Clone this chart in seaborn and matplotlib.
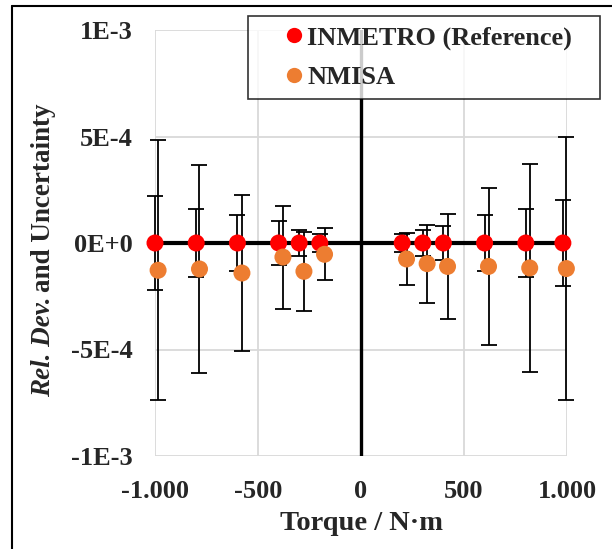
import matplotlib
matplotlib.use("Agg")
import matplotlib.pyplot as plt
import seaborn as sns
import pandas as pd
from matplotlib.lines import Line2D

# datos
torque_inmetro = [-1000, -800, -600, -400, -300, -200, 200, 300, 400, 600, 800, 980]
dev_inmetro = [0, 0, 0, 0, 0, 0, 0, 0, 0, 0, 0, 0]
u_inmetro = [2.2e-4, 1.6e-4, 1.3e-4, 1.02e-4, 0.61e-4, 0.42e-4,
             0.41e-4, 0.61e-4, 0.8e-4, 1.3e-4, 1.6e-4, 2.0e-4]

torque_nmisa = [-985, -784, -578, -379, -277, -177, 221, 321, 420, 619, 819, 997]
dev_nmisa = [-1.28e-4, -1.22e-4, -1.41e-4, -0.66e-4, -1.33e-4, -0.53e-4,
             -0.75e-4, -0.97e-4, -1.10e-4, -1.10e-4, -1.17e-4, -1.20e-4]
u_nmisa = [6.1e-4, 4.9e-4, 3.65e-4, 2.42e-4, 1.85e-4, 1.22e-4,
           1.2e-4, 1.83e-4, 2.45e-4, 3.67e-4, 4.9e-4, 6.17e-4]

x_ticks = [-1000, -500, 0, 500, 1000]
x_labels = ["-1.000", "-500", "0", "500", "1.000"]
y_ticks = [-1e-3, -5e-4, 0, 5e-4, 1e-3]
y_labels = ["-1E-3", "-5E-4", "0E+0", "5E-4", "1E-3"]

df = pd.concat([
    pd.DataFrame({"Torque": torque_inmetro, "Dev": dev_inmetro, "U": u_inmetro,
                  "Lab": "INMETRO (Reference)"}),
    pd.DataFrame({"Torque": torque_nmisa, "Dev": dev_nmisa, "U": u_nmisa,
                  "Lab": "NMISA"}),
])

sns.set_style("white")
plt.rcParams["font.family"] = ["Liberation Serif", "DejaVu Serif"]
plt.rcParams["font.weight"] = "bold"

fig = plt.figure(figsize=(6.12, 5.49), dpi=100)
ax = fig.add_axes([155 / 612, 1 - 456 / 549, 412 / 612, 426 / 549])

for s in ax.spines.values():
    s.set_visible(False)

ax.set_xlim(-1000, 1000)
ax.set_ylim(-1e-3, 1e-3)
ax.set_xticks(x_ticks)
ax.set_xticklabels(x_labels)
ax.set_yticks(y_ticks)
ax.set_yticklabels(y_labels)
ax.tick_params(axis="both", length=0, labelsize=19)
ax.tick_params(axis="y", pad=16)
ax.tick_params(axis="x", pad=17)
ax.grid(True, color="#d9d9d9", linewidth=1.3)
ax.set_axisbelow(True)

# ejes en cero
ax.axhline(0, color="black", linewidth=3, zorder=2)
ax.axvline(0, color="black", linewidth=2.4, zorder=2)

colores = {"INMETRO (Reference)": "#ff0000", "NMISA": "#ed7d31"}

for lab, sub in df.groupby("Lab"):
    ax.errorbar(sub["Torque"], sub["Dev"], yerr=sub["U"], fmt="none",
                ecolor="black", elinewidth=1.3, capsize=6, capthick=1.3,
                zorder=3, clip_on=False)

sns.scatterplot(data=df, x="Torque", y="Dev", hue="Lab", palette=colores,
                s=150, edgecolor="none", ax=ax, zorder=4, clip_on=False,
                legend=False)

handles = [Line2D([], [], marker="o", linestyle="none", markersize=11,
                  markerfacecolor=c, markeredgecolor="none") for c in colores.values()]
leg = fig.legend(handles, list(colores.keys()), loc="upper left",
                 bbox_to_anchor=(248 / 612, 1 - 97 / 549, 352 / 612, 81 / 549),
                 mode="expand", fontsize=19,
                 frameon=True, fancybox=False, edgecolor="black",
                 handletextpad=-0.85, handlelength=2.71, borderpad=0.38,
                 labelspacing=0.59, borderaxespad=0)
leg.get_frame().set_linewidth(1.2)
leg.set_zorder(10)

ax.set_xlabel("Torque / N·m", fontsize=20.5, fontweight="bold", labelpad=6)
ax.set_ylabel("")

# etiqueta Y con parte en cursiva
fig.canvas.draw()
r = fig.canvas.get_renderer()
t1 = fig.text(44 / 612, 1 - 397 / 549, "Rel. Dev.", rotation=90, fontsize=19.5,
              fontweight="bold", style="italic", ha="center", va="bottom")
bb = t1.get_window_extent(renderer=r)
inv = fig.transFigure.inverted()
y_top = inv.transform((0, bb.y1 + 5))[1]
fig.text(44 / 612, y_top, "and Uncertainty", rotation=90, fontsize=19.5,
         fontweight="bold", ha="center", va="bottom")

# marco exterior
fig.add_artist(Line2D([12 / 612, 12 / 612], [0, 1 - 6 / 549], color="black",
                      linewidth=1.5, transform=fig.transFigure))
fig.add_artist(Line2D([12 / 612, 1], [1 - 6 / 549, 1 - 6 / 549], color="black",
                      linewidth=1.5, transform=fig.transFigure))

fig.savefig("out.png", dpi=100)
